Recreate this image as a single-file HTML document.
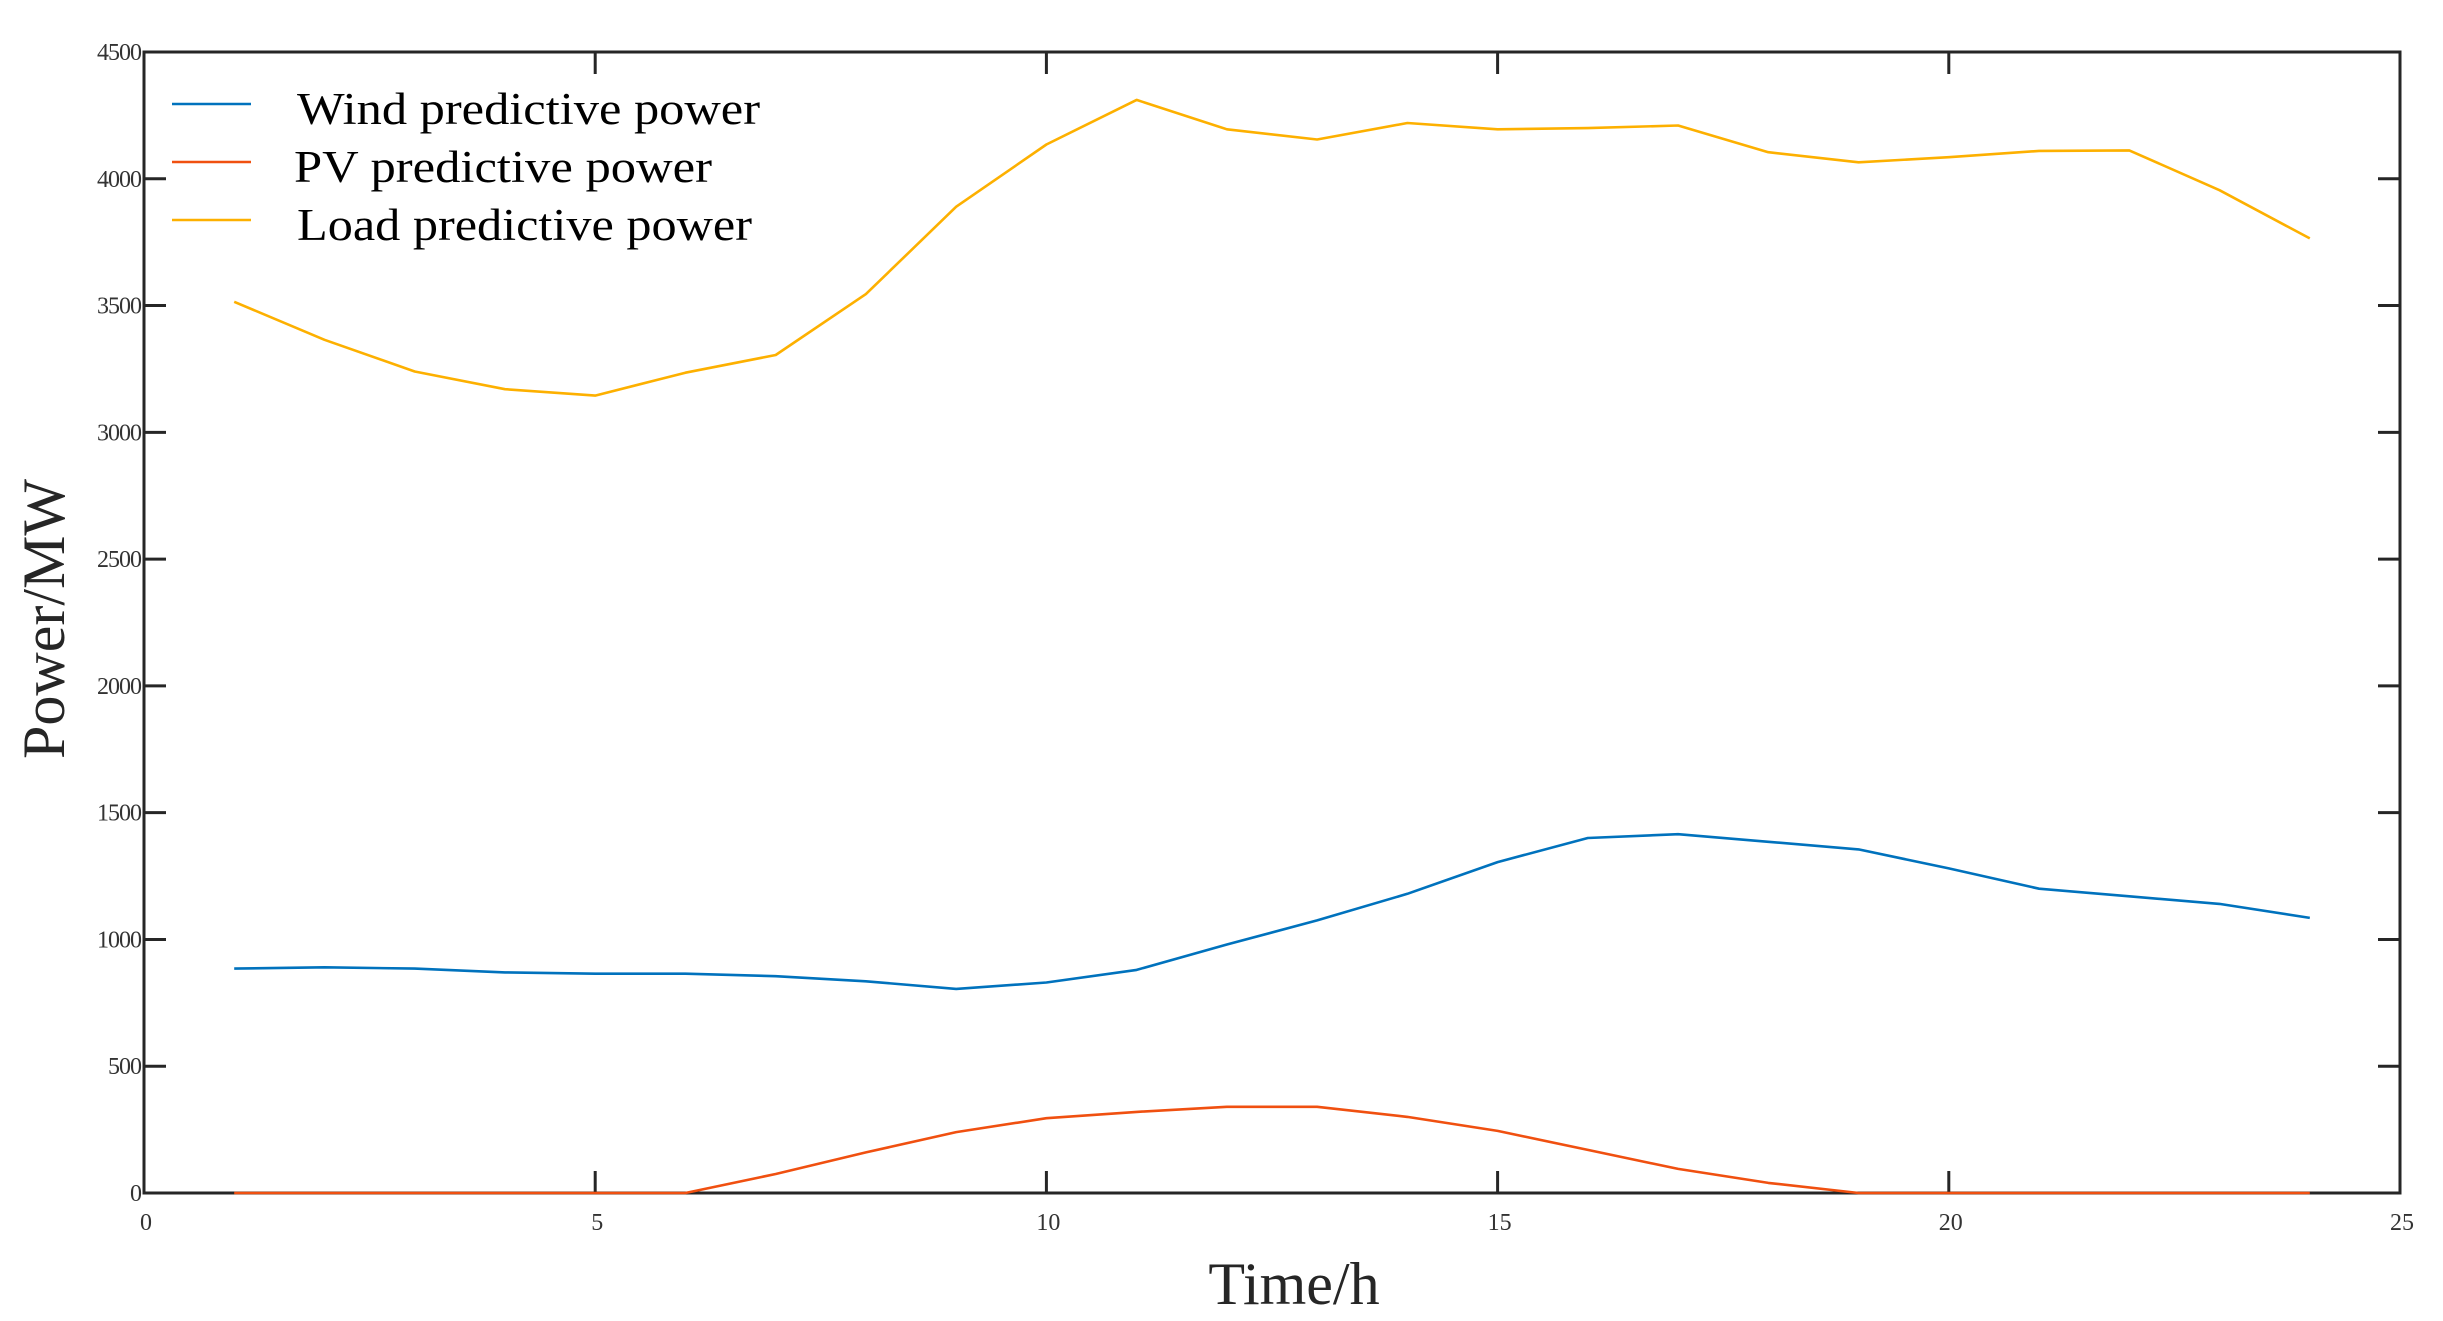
<!DOCTYPE html>
<html><head><meta charset="utf-8"><style>html,body{margin:0;padding:0;background:#fff}svg{display:block}</style></head>
<body>
<svg id="s" width="2443" height="1321" xmlns="http://www.w3.org/2000/svg" font-family="'Liberation Serif', serif">
<rect width="2443" height="1321" fill="#fff"/>
<g id="g"></g>
<text x="0" y="0" font-size="60" fill="#262626" text-anchor="middle" transform="translate(64,619) rotate(-90)">Power/MW</text>
<text x="1294" y="1304" font-size="60" fill="#262626" text-anchor="middle">Time/h</text>
<line x1="172" y1="104" x2="251" y2="104" stroke="#0072BD" stroke-width="2.5"/>
<line x1="172" y1="162" x2="251" y2="162" stroke="#F05010" stroke-width="2.5"/>
<line x1="172" y1="220" x2="251" y2="220" stroke="#FDB000" stroke-width="2.5"/>
<text x="297" y="124" font-size="45" fill="#000" textLength="463" lengthAdjust="spacingAndGlyphs">Wind predictive power</text>
<text x="294" y="182" font-size="45" fill="#000" textLength="418" lengthAdjust="spacingAndGlyphs">PV predictive power</text>
<text x="297" y="240" font-size="45" fill="#000" textLength="455" lengthAdjust="spacingAndGlyphs">Load predictive power</text>
</svg>
<script>
var L=144,R=2400,T=52,B=1193;
function X(h){return L+h*(R-L)/25}
function Y(v){return B-v*(B-T)/4500}
var g=document.getElementById('g'),h='';
var load=[3515,3365,3240,3170,3145,3235,3305,3545,3890,4135,4311,4195,4155,4220,4195,4200,4210,4105,4065,4085,4110,4112,3955,3765];
var wind=[885,890,885,870,865,865,855,835,805,830,880,980,1075,1180,1305,1400,1415,1385,1355,1280,1200,1170,1140,1085];
var pv=[0,0,0,0,0,0,75,160,240,295,320,340,340,300,245,170,95,40,0,0,0,0,0,0];
function pl(d,c){var p=d.map(function(v,i){return X(i+1).toFixed(1)+','+Y(v).toFixed(1)}).join(' ');
h+='<polyline points="'+p+'" fill="none" stroke="'+c+'" stroke-width="2.6" stroke-linejoin="round"/>';}
for(var i=0;i<=5;i++){var x=X(i*5);h+='<line x1="'+x+'" y1="'+B+'" x2="'+x+'" y2="'+(B-22)+'" stroke="#262626" stroke-width="3"/><line x1="'+x+'" y1="'+T+'" x2="'+x+'" y2="'+(T+22)+'" stroke="#262626" stroke-width="3"/>';
h+='<text x="'+(x+2)+'" y="1230" font-size="24" fill="#333" text-anchor="middle">'+(i*5)+'</text>';}
for(var j=0;j<=9;j++){var y=Y(j*500);h+='<line x1="'+L+'" y1="'+y+'" x2="'+(L+22)+'" y2="'+y+'" stroke="#262626" stroke-width="3"/><line x1="'+R+'" y1="'+y+'" x2="'+(R-22)+'" y2="'+y+'" stroke="#262626" stroke-width="3"/>';
h+='<text x="141" y="'+(y+8)+'" font-size="24" fill="#333" text-anchor="end" letter-spacing="-1">'+(j*500)+'</text>';}
h+='<rect x="'+L+'" y="'+T+'" width="'+(R-L)+'" height="'+(B-T)+'" fill="none" stroke="#262626" stroke-width="3"/>';
pl(load,'#FDB000');pl(wind,'#0072BD');pl(pv,'#F05010');
g.innerHTML=h;
</script>
</body></html>
